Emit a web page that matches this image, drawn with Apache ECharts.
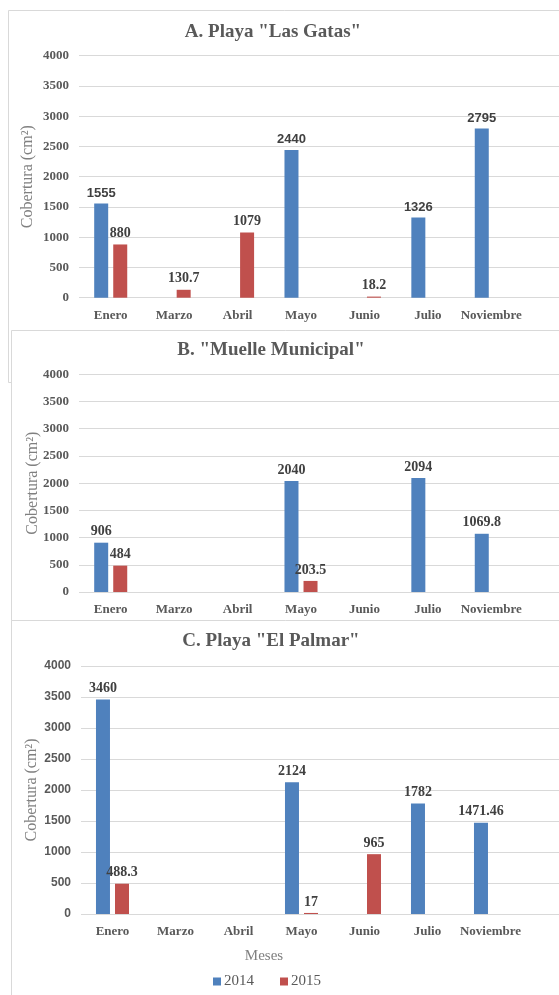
<!DOCTYPE html>
<html><head><meta charset="utf-8">
<script src="https://cdn.jsdelivr.net/npm/echarts@6/dist/echarts.min.js"></script>
<style>html,body{margin:0;padding:0;background:#fff}#c{width:559px;height:995px}</style>
</head><body><div id="c"></div>
<script>
const categories = ['Enero','Marzo','Abril','Mayo','Junio','Julio','Noviembre'];
const years = ['2014','2015'];
const panelTitles = ['A. Playa "Las Gatas"', 'B. "Muelle Municipal"', 'C. Playa "El Palmar"'];
const lasGatas2014 = [1555, null, null, 2440, null, 1326, 2795];
const lasGatas2015 = [880, 130.7, 1079, null, 18.2, null, null];
const muelle2014 = [906, null, null, 2040, null, 2094, 1069.8];
const muelle2015 = [484, null, null, 203.5, null, null, null];
const palmar2014 = [3460, null, null, 2124, null, 1782, 1471.46];
const palmar2015 = [488.3, null, null, 17, 965, null, null];
const yMin = 0, yMax = 4000, yStep = 500;
const yAxisTitle = 'Cobertura (cm²)';
const xAxisTitle = 'Meses';

const SERIF = '"Liberation Serif","Times New Roman",serif';
const SANS = '"Liberation Sans",Arial,sans-serif';
const BLUE = '#4F81BD', RED = '#C0504D';

const panels = [
  {top: 55.7, h: 242, left: 79, w: 444, tickFont: SERIF, tickSize: 13, data: [lasGatas2014, lasGatas2015], labelFonts: [SANS, SERIF], labelSizes: [13, 14], titleX: 273, titleY: 32, nameGap: 43},
  {top: 374.3, h: 217.7, left: 79, w: 444, tickFont: SERIF, tickSize: 13, data: [muelle2014, muelle2015], labelFonts: [SERIF, SERIF], labelSizes: [14, 14], titleX: 271, titleY: 350, nameGap: 38},
  {top: 666, h: 248, left: 81, w: 441, tickFont: SANS, tickSize: 12, data: [palmar2014, palmar2015], labelFonts: [SERIF, SERIF], labelSizes: [14, 14], titleX: 271, titleY: 641, nameGap: 41}
];

const grid = [], xAxis = [], yAxis = [], series = [];
panels.forEach((p, i) => {
  // background grid for horizontal gridlines spanning to the right edge
  grid.push({left: p.left, top: p.top, height: p.h, right: 0});
  grid.push({left: p.left, top: p.top, height: p.h, width: p.w});
  xAxis.push({gridIndex: 2*i, type: 'value', show: false, min: 0, max: 1});
  xAxis.push({gridIndex: 2*i+1, type: 'category', data: categories,
    axisLine: {show: false}, axisTick: {show: false},
    axisLabel: {interval: 0, margin: 11, color: '#595959', fontFamily: SERIF, fontWeight: 'bold', fontSize: 13}});
  yAxis.push({gridIndex: 2*i, type: 'value', min: yMin, max: yMax, interval: yStep,
    name: yAxisTitle, nameLocation: 'middle', nameGap: p.nameGap, nameMoveOverlap: false,
    nameTextStyle: {color: '#808080', fontFamily: SERIF, fontSize: 16},
    axisLine: {show: false}, axisTick: {show: false},
    axisLabel: {margin: 10, color: '#595959', fontFamily: p.tickFont, fontWeight: 'bold', fontSize: p.tickSize,
      formatter: v => String(v)},
    splitLine: {lineStyle: {color: '#d9d9d9', width: 1}}});
  yAxis.push({gridIndex: 2*i+1, type: 'value', min: yMin, max: yMax, interval: yStep, show: false, splitLine: {show: false}});
  p.data.forEach((d, k) => {
    series.push({
      name: years[k], type: 'bar', xAxisIndex: 2*i+1, yAxisIndex: 2*i+1, data: d,
      barWidth: 14, barGap: '36%',
      itemStyle: {color: k === 0 ? BLUE : RED},
      label: {show: true, position: 'top', distance: 4, color: '#404040', fontWeight: 'bold',
        fontFamily: p.labelFonts[k], fontSize: p.labelSizes[k]}
    });
  });
});

const graphic = [
  {type: 'rect', z: -10, shape: {x: 8.5, y: 10.5, width: 600, height: 372}, style: {fill: '#fff', stroke: '#d9d9d9', lineWidth: 1}},
  {type: 'rect', z: -9, shape: {x: 11.5, y: 330.5, width: 600, height: 400}, style: {fill: '#fff', stroke: '#d9d9d9', lineWidth: 1}},
  {type: 'rect', z: -8, shape: {x: 11.5, y: 620.5, width: 600, height: 400}, style: {fill: '#fff', stroke: '#d9d9d9', lineWidth: 1}}
];
panels.forEach((p, i) => {
  graphic.push({type: 'text', z: 5, x: p.titleX, y: p.titleY, style: {text: panelTitles[i], textAlign: 'center', textVerticalAlign: 'middle',
    fill: '#595959', font: 'bold 19px ' + SERIF}});
});
graphic.push({type: 'text', z: 5, x: 264, y: 956, style: {text: xAxisTitle, textAlign: 'center', textVerticalAlign: 'middle',
  fill: '#808080', font: '15px ' + SERIF}});

const chart = echarts.init(document.getElementById('c'), null, {renderer: 'canvas'});
chart.setOption({
  animation: false,
  backgroundColor: '#fff',
  graphic: graphic,
  grid: grid, xAxis: xAxis, yAxis: yAxis, series: series,
  legend: {data: years, left: 208, top: 969, icon: 'rect', itemWidth: 8, itemHeight: 8, itemGap: 26,
    textStyle: {color: '#595959', fontFamily: SERIF, fontSize: 15, padding: [0, 0, 0, -2]}}
});
</script></body></html>
